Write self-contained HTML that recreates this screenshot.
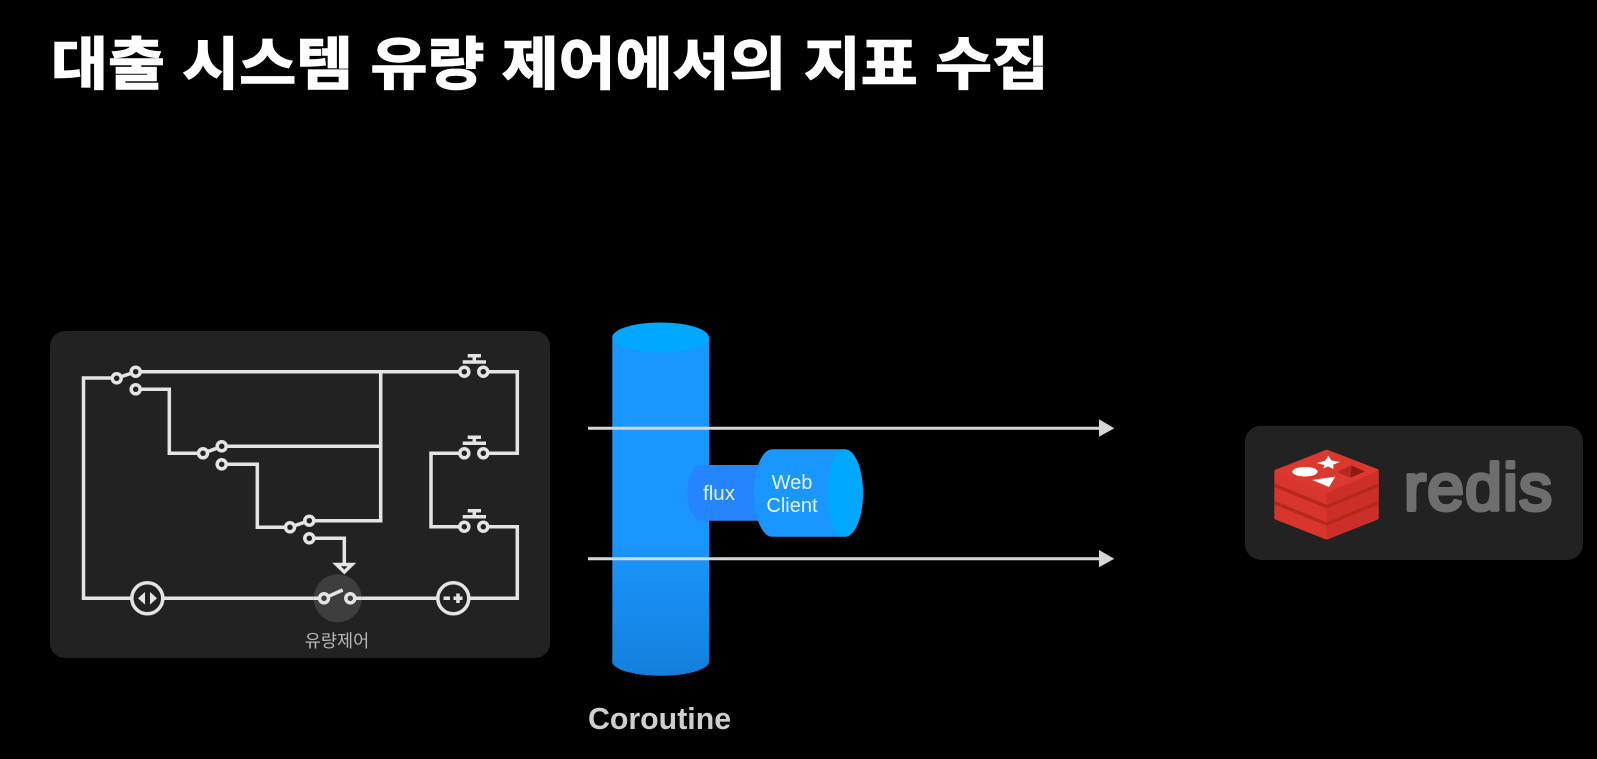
<!DOCTYPE html>
<html lang="ko">
<head>
<meta charset="utf-8">
<style>
html,body{margin:0;padding:0;background:#000;width:1597px;height:759px;overflow:hidden}
svg{display:block}
text{font-family:"Liberation Sans","Noto Sans CJK KR",sans-serif}
.w{fill:none;stroke:#e4e4e4;stroke-width:3.5;stroke-linejoin:miter}
.c{fill:#222;stroke:#e4e4e4;stroke-width:3.5}
</style>
</head>
<body>
<svg width="1597" height="759" viewBox="0 0 1597 759" xmlns="http://www.w3.org/2000/svg">
<defs>
<linearGradient id="body" x1="0" y1="0" x2="0" y2="1">
<stop offset="0" stop-color="#1a96ff"/><stop offset="0.6" stop-color="#1a96ff"/><stop offset="1" stop-color="#1480dc"/>
</linearGradient>
</defs>
<rect width="1597" height="759" fill="#000"/>

<text x="51" y="84" font-size="57" font-weight="700" fill="#fff" stroke="#fff" stroke-width="1.4" style="font-family:'Noto Sans CJK KR',sans-serif" textLength="998" lengthAdjust="spacingAndGlyphs">대출 시스템 유량 제어에서의 지표 수집</text>

<!-- Left panel -->
<rect x="50" y="331" width="500" height="327" rx="15" fill="#222"/>

<!-- Wires -->
<path class="w" d="M117 378H83.5V598.3H517.3V526.7H483"/>
<path class="w" d="M136 371.7H464"/>
<path class="w" d="M380.7 371.7V520.7H309"/>
<path class="w" d="M222 446.3H380.7"/>
<path class="w" d="M136 389.3H169.3V453.3H203"/>
<path class="w" d="M222 464.3H257.3V527.3H290"/>
<path class="w" d="M309 538.3H344.3V564"/>
<path class="w" d="M483 371.7H517.3V453.3H483"/>
<path class="w" d="M464 453.3H431V526.7H464"/>

<!-- Toggle levers -->
<path class="w" d="M117 378L136 371.7"/>
<path class="w" d="M203 453.3L222 446.3"/>
<path class="w" d="M290 527.3L309 520.7"/>

<!-- Small contact circles -->
<circle class="c" cx="116.7" cy="378.3" r="4.5"/>
<circle class="c" cx="135.7" cy="371.7" r="4.5"/>
<circle class="c" cx="135.7" cy="389.3" r="4.5"/>
<circle class="c" cx="203" cy="453.3" r="4.5"/>
<circle class="c" cx="221.7" cy="446.3" r="4.5"/>
<circle class="c" cx="221.7" cy="464.3" r="4.5"/>
<circle class="c" cx="290" cy="527.3" r="4.5"/>
<circle class="c" cx="309.3" cy="520.7" r="4.5"/>
<circle class="c" cx="309.3" cy="538.3" r="4.5"/>
<circle class="c" cx="464.3" cy="371.7" r="4.5"/>
<circle class="c" cx="483.3" cy="371.7" r="4.5"/>
<circle class="c" cx="464.3" cy="453.3" r="4.5"/>
<circle class="c" cx="483.3" cy="453.3" r="4.5"/>
<circle class="c" cx="464.3" cy="526.7" r="4.5"/>
<circle class="c" cx="483.3" cy="526.7" r="4.5"/>

<!-- Push buttons -->
<path class="w" d="M462.7 362H486M467.7 355.7H481M474.3 355.7V362"/>
<path class="w" d="M462.7 443.3H486M467.7 437.3H481M474.3 437.3V443.3"/>
<path class="w" d="M462.7 516.7H486M467.7 510.7H481M474.3 510.7V516.7"/>

<!-- Down arrow -->
<polygon points="336.5,564.5 352,564.5 344.3,572" fill="#222" stroke="#e4e4e4" stroke-width="3.5"/>

<!-- Flow control switch -->
<circle cx="337.7" cy="598.3" r="24" fill="#3e3e3e"/>
<path d="M313.7 598.3H361.7" stroke="#e4e4e4" stroke-width="3.5"/>
<rect x="329" y="588" width="17" height="16" fill="#3e3e3e"/>
<path class="w" d="M324 598.3L342.7 590"/>
<circle cx="324" cy="598.3" r="4.5" fill="#3e3e3e" stroke="#e4e4e4" stroke-width="3.5"/>
<circle cx="350.3" cy="598.3" r="4.5" fill="#3e3e3e" stroke="#e4e4e4" stroke-width="3.5"/>

<!-- Batteries -->
<circle cx="147.3" cy="598.3" r="15.5" fill="#222" stroke="#e4e4e4" stroke-width="3.5"/>
<polygon points="138,598.3 145,592 145,604.6" fill="#e4e4e4"/>
<polygon points="157,598.3 150,592 150,604.6" fill="#e4e4e4"/>
<circle cx="453.3" cy="598.3" r="15.5" fill="#222" stroke="#e4e4e4" stroke-width="3.5"/>
<path d="M443.5 598.3H450M453.5 598.3H462.5M458 593.5V603" stroke="#e4e4e4" stroke-width="3.5" fill="none"/>

<text x="337" y="647" font-size="17.5" fill="#b8b8b8" text-anchor="middle" style="font-family:'Noto Sans CJK KR',sans-serif">유량제어</text>

<!-- Coroutine cylinder -->
<path d="M612.3 337.3H709V661.7A48.35 14 0 0 1 612.3 661.7Z" fill="url(#body)"/>
<ellipse cx="660.6" cy="337.5" rx="48.35" ry="15" fill="#00a8ff"/>

<!-- flux -->
<path d="M701 465H770V520.7H701A13.5 27.85 0 0 1 701 465Z" fill="#2585ff"/>
<!-- Web client -->
<path d="M772 449.3H845V536.7H772A18 43.7 0 0 1 772 449.3Z" fill="#1a96ff"/>
<ellipse cx="845" cy="493" rx="18" ry="43.7" fill="#00a8ff"/>

<text x="719" y="500" font-size="20.5" fill="#e6f2ff" text-anchor="middle">flux</text>
<text x="792" y="489" font-size="20" fill="#e6f2ff" text-anchor="middle">Web</text>
<text x="792" y="512" font-size="20" fill="#e6f2ff" text-anchor="middle">Client</text>

<!-- Arrows -->
<path d="M588 428.3H1100" stroke="#d6d6d6" stroke-width="3" fill="none"/>
<polygon points="1099,419.3 1114.3,428.2 1099,436.7" fill="#d6d6d6"/>
<path d="M588 558.7H1100" stroke="#d6d6d6" stroke-width="3" fill="none"/>
<polygon points="1099,550 1114.3,558.7 1099,567.3" fill="#d6d6d6"/>

<text x="588" y="729" font-size="30.3" font-weight="700" fill="#cfcfcf">Coroutine</text>

<!-- Redis panel -->
<rect x="1245" y="425.7" width="338" height="134.3" rx="16" fill="#222"/>
<g transform="translate(1260 440) scale(.3333)" stroke-linejoin="round">
<path d="M48 94L200 34L351 92V234L200 294L48 234Z" fill="#d8352c" stroke="#d8352c" stroke-width="10"/>
<path d="M200 160L356 92V234L200 298Z" fill="#cc2f27"/>
<path d="M44 136L200 200L355 136" fill="none" stroke="#b5281d" stroke-width="10"/>
<path d="M44 188L200 252L355 188" fill="none" stroke="#b5281d" stroke-width="10"/>
<path d="M46 92L202 32L354 90L198 155Z" fill="#dc382f" stroke="#dc382f" stroke-width="4"/>
<ellipse cx="135" cy="95" rx="38" ry="14.5" fill="#fff"/>
<polygon points="205,47 214,61 240,66 220,74 220,87 204,79 190,86 193,75 170,69 196,62" fill="#fff"/>
<polygon points="157,120 226,110 207,141" fill="#fff"/>
<polygon points="232,96 275,76 314,94 272,113" fill="#8a1a12"/>
<polygon points="232,96 275,76 272,113" fill="#b02a20"/>
</g>
<text x="1404" y="510" font-size="66" fill="#6e6e6e" stroke="#6e6e6e" stroke-width="4" stroke-linejoin="round" textLength="148">redis</text>
</svg>
</body>
</html>
